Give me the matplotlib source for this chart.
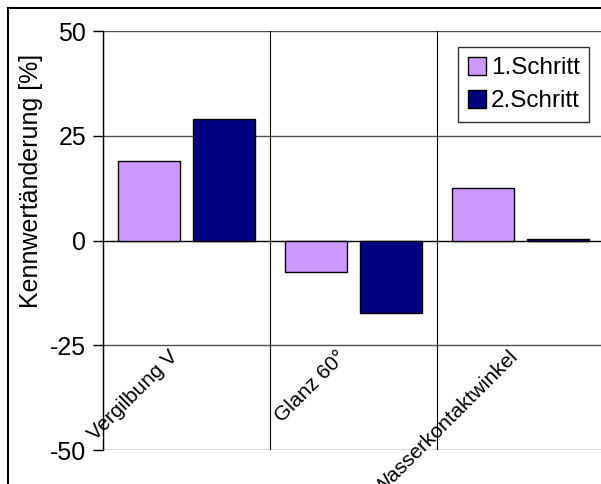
import matplotlib
matplotlib.use("Agg")
import matplotlib.pyplot as plt
from matplotlib.lines import Line2D
import numpy as np

plt.rcParams['font.family'] = ['Liberation Sans', 'DejaVu Sans']

categories = ["Vergilbung V", "Glanz 60°", "Wasserkontaktwinkel"]
series_names = ["1.Schritt", "2.Schritt"]
schritt1 = [19.0, -7.5, 12.6]
schritt2 = [29.0, -17.2, 0.3]
colors = ["#CC99FF", "#000080"]
yticks = [-50, -25, 0, 25, 50]

# label end-point offsets along x, in category units
label_dx = [-0.03, -0.02, 0.01]

W, H = 601, 484
fig = plt.figure(figsize=(W / 100, H / 100), dpi=100)

left_px, right_px, top_px, bot_px = 103, 601, 31, 450
ax = fig.add_axes([left_px / W, 1 - bot_px / H,
                   (right_px - left_px) / W, (bot_px - top_px) / H])

cat_w = 167.0
ax.set_xlim(-0.5, -0.5 + (right_px - left_px) / cat_w)
ax.set_ylim(-50, 50)

x = np.arange(len(categories))
bw = 0.37
off = 0.225
ax.bar(x - off, schritt1, bw, color=colors[0], edgecolor="black",
       linewidth=1.0, label=series_names[0], zorder=3)
ax.bar(x + off, schritt2, bw, color=colors[1], edgecolor="black",
       linewidth=1.0, label=series_names[1], zorder=3)

# grid
for yv in yticks:
    ax.axhline(yv, color="#505050" if yv != 0 else "black", lw=1.0, zorder=1)
for b in np.arange(len(categories) + 1) - 0.5:
    ax.axvline(b, color="black", lw=0.8, zorder=1)

for s in ["top", "right", "bottom"]:
    ax.spines[s].set_visible(False)
ax.spines["left"].set_color("black")
ax.spines["left"].set_linewidth(1.0)
ax.spines["left"].set_zorder(4)

ax.set_yticks(yticks)
ax.set_yticklabels([str(v) for v in yticks], fontsize=18)
ax.tick_params(axis="y", length=7, width=1, color="black", pad=5)
ax.set_xticks([])

ax.set_ylabel("Kennwertänderung [%]", fontsize=18)
ax.yaxis.set_label_coords(-0.12, 0.642)

for i, (lab, dx) in enumerate(zip(categories, label_dx)):
    ax.text(i + dx, -25.4, lab, rotation=45, ha="right", va="top",
            fontsize=15, clip_on=False)

leg = ax.legend(loc="upper left", bbox_to_anchor=((458 - left_px) / (right_px - left_px),
                                                  1 - (47 - top_px) / (bot_px - top_px)),
                fontsize=17.5, frameon=True, fancybox=False, edgecolor="black",
                handlelength=0.75, handleheight=0.75, handletextpad=0.2,
                borderpad=0.4, labelspacing=0.45, borderaxespad=0)
leg.get_frame().set_linewidth(1.0)

# outer chart frame
fig.add_artist(Line2D([8 / W, 8 / W], [0, 1 - 8 / H], color="black", lw=1.5,
                      transform=fig.transFigure))
fig.add_artist(Line2D([8 / W, 1], [1 - 8 / H, 1 - 8 / H], color="black", lw=1.5,
                      transform=fig.transFigure))

fig.savefig("out.png", dpi=100)
